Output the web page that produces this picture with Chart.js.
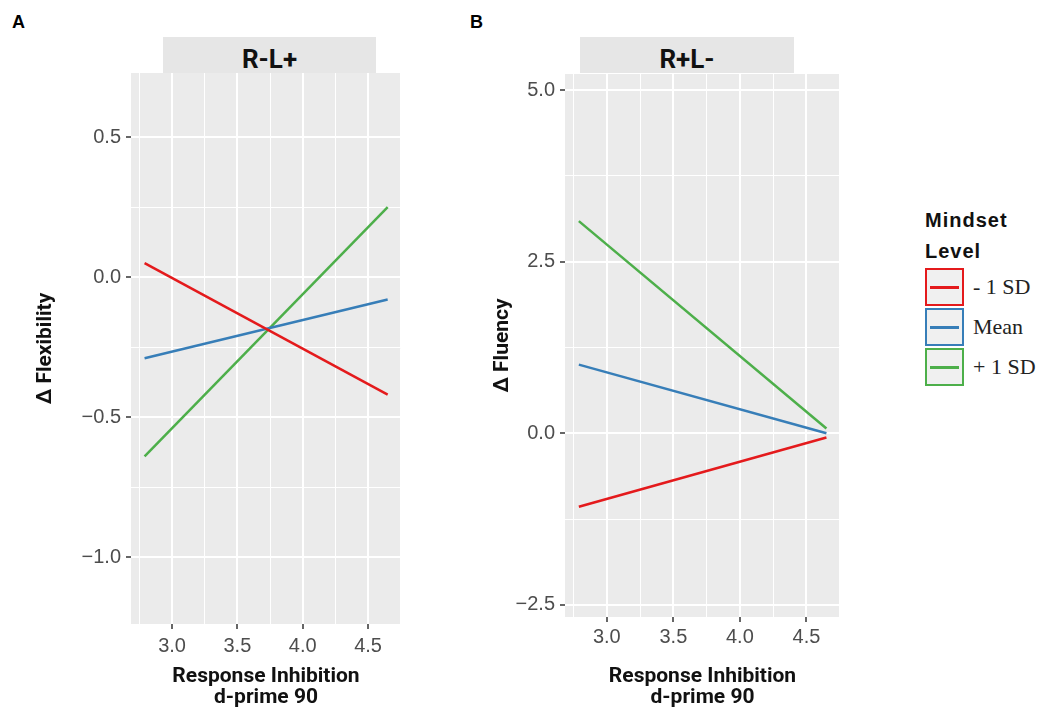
<!DOCTYPE html>
<html lang="en">
<head>
  <meta charset="UTF-8" />
  <title>Mindset x Response Inhibition</title>
  <script src="https://cdn.jsdelivr.net/npm/chart.js"></script>
  <style>
    body {
      margin: 0;
      background: #fff;
      width: 1046px;
      height: 715px;
      position: relative;
      overflow: hidden;
      font-family: 'Liberation Sans', Arial, sans-serif;
    }
    canvas { position: absolute; top: 0; }
    #chartA { left: 0; }
    #chartB { left: 440px; }
    .tag {
      position: absolute;
      top: 12px;
      font-weight: bold;
      font-size: 18px;
    }
    .strip {
      position: absolute;
      top: 37px;
      height: 36px;
      background: #e6e6e6;
      font-family: Roboto, sans-serif;
      font-weight: bold;
      font-size: 26px;
      line-height: 45px;
      text-align: center;
      color: #111;
    }
    .legend { position: absolute; left: 925px; top: 205px; }
    .legend .title {
      font-weight: bold;
      font-size: 20px;
      line-height: 31px;
      letter-spacing: 1px;
      color: #111;
    }
    .key { display: flex; align-items: center; height: 40px; }
    .box {
      width: 35px;
      height: 34px;
      background: #f0f0f0;
      border: 2px solid;
      position: relative;
    }
    .box span {
      position: absolute;
      left: 3px;
      right: 3px;
      top: 16px;
      height: 2.5px;
    }
    .key label {
      font-family: 'Liberation Serif', 'Times New Roman', serif;
      font-size: 22px;
      margin-left: 9px;
      color: #222;
    }
  </style>
</head>
<body>
  <div class="tag" style="left:12px">A</div>
  <div class="tag" style="left:470px">B</div>
  <div class="strip" style="left:163px; width:213px">R-L+</div>
  <div class="strip" style="left:580px; width:214px">R+L-</div>

  <canvas id="chartA" width="430" height="715"></canvas>
  <canvas id="chartB" width="420" height="715"></canvas>

  <div class="legend">
    <div class="title">Mindset<br>Level</div>
    <div id="keys"></div>
  </div>

  <script>
    // predictor values at the ends of each simple slope
    const xEnds = [2.79, 4.65];

    // panel A : change in flexibility
    const flexLow = [0.05, -0.42];
    const flexMean = [-0.29, -0.08];
    const flexHigh = [-0.64, 0.25];

    // panel B : change in fluency
    const fluLow = [-1.07, -0.06];
    const fluMean = [1.0, 0.0];
    const fluHigh = [3.09, 0.07];

    const levels = ['- 1 SD', 'Mean', '+ 1 SD'];
    const colours = ['#e41a1c', '#377eb8', '#4daf4a'];

    const xTicks = [3.0, 3.5, 4.0, 4.5];
    const yTicksA = [-1.0, -0.5, 0.0, 0.5];
    const yTicksB = [-2.5, 0.0, 2.5, 5.0];

    // legend keys
    const keys = document.getElementById('keys');
    levels.forEach((name, i) => {
      keys.innerHTML += `<div class="key"><div class="box" style="border-color:${colours[i]}"><span style="background:${colours[i]}"></span></div><label>${name}</label></div>`;
    });

    const panelBg = {
      id: 'panelBg',
      beforeDraw(chart) {
        const a = chart.chartArea;
        chart.ctx.save();
        chart.ctx.fillStyle = '#ebebeb';
        chart.ctx.fillRect(a.left, a.top, a.right - a.left, a.bottom - a.top);
        chart.ctx.restore();
      }
    };

    const isIn = (list, v) => list.some(t => Math.abs(t - v) < 1e-6);
    const fmt = v => v.toFixed(1).replace('-', '\u2212');

    function makeChart(id, series, yMin, yMax, yStep, yTicks, yTitle, geo) {
      const sets = series.map((arr, i) => ({
        label: levels[i],
        data: xEnds.map((x, j) => ({ x: x, y: arr[j] })),
        borderColor: colours[i],
        borderWidth: 2.5,
        pointRadius: 0,
        showLine: true,
        fill: false
      }));

      const grid = list => ({
        color: '#ffffff',
        lineWidth: c => isIn(list, c.tick.value) ? 2 : 1,
        tickColor: c => isIn(list, c.tick.value) ? '#333333' : 'rgba(0,0,0,0)',
        tickWidth: 1.5,
        tickLength: 5,
        drawTicks: true
      });

      return new Chart(document.getElementById(id), {
        type: 'scatter',
        data: { datasets: sets },
        plugins: [panelBg],
        options: {
          responsive: false,
          animation: false,
          layout: { padding: { top: geo.top, right: geo.right, left: 0, bottom: 0 } },
          plugins: { legend: { display: false }, tooltip: { enabled: false } },
          scales: {
            x: {
              type: 'linear',
              min: 2.686,
              max: 4.752,
              border: { display: false },
              grid: grid(xTicks),
              ticks: {
                stepSize: 0.25,
                includeBounds: false,
                autoSkip: false,
                maxRotation: 0,
                padding: geo.xpad,
                color: '#4d4d4d',
                font: { family: 'Liberation Sans', size: 20 },
                callback: v => isIn(xTicks, v) ? fmt(v) : ''
              },
              title: {
                display: true,
                text: ['Response Inhibition', 'd-prime 90'],
                color: '#111',
                font: { family: 'Roboto', weight: 'bold', size: 21, lineHeight: 1.0 },
                padding: { top: 0, bottom: 7 }
              },
              afterFit: s => { s.height = geo.xh; }
            },
            y: {
              type: 'linear',
              min: yMin,
              max: yMax,
              border: { display: false },
              grid: grid(yTicks),
              ticks: {
                stepSize: yStep,
                includeBounds: false,
                autoSkip: false,
                padding: 5,
                color: '#4d4d4d',
                font: { family: 'Liberation Sans', size: 20 },
                callback: v => isIn(yTicks, v) ? fmt(v) : ''
              },
              title: {
                display: true,
                text: yTitle,
                color: '#111',
                font: { family: 'Roboto', weight: 'bold', size: 21, lineHeight: 1.2 },
                padding: { top: geo.ytp, bottom: 0 }
              },
              afterFit: s => { s.width = geo.yw; }
            }
          }
        }
      });
    }

    makeChart('chartA', [flexLow, flexMean, flexHigh], -1.239, 0.729, 0.25, yTicksA,
      '\u0394 Flexibility', { top: 73, right: 29, yw: 131, xh: 91, ytp: 33, xpad: 5 });
    makeChart('chartB', [fluLow, fluMean, fluHigh], -2.675, 5.233, 1.25, yTicksB,
      '\u0394 Fluency', { top: 74, right: 20, yw: 125, xh: 98, ytp: 50, xpad: 3 });
  </script>
</body>
</html>
